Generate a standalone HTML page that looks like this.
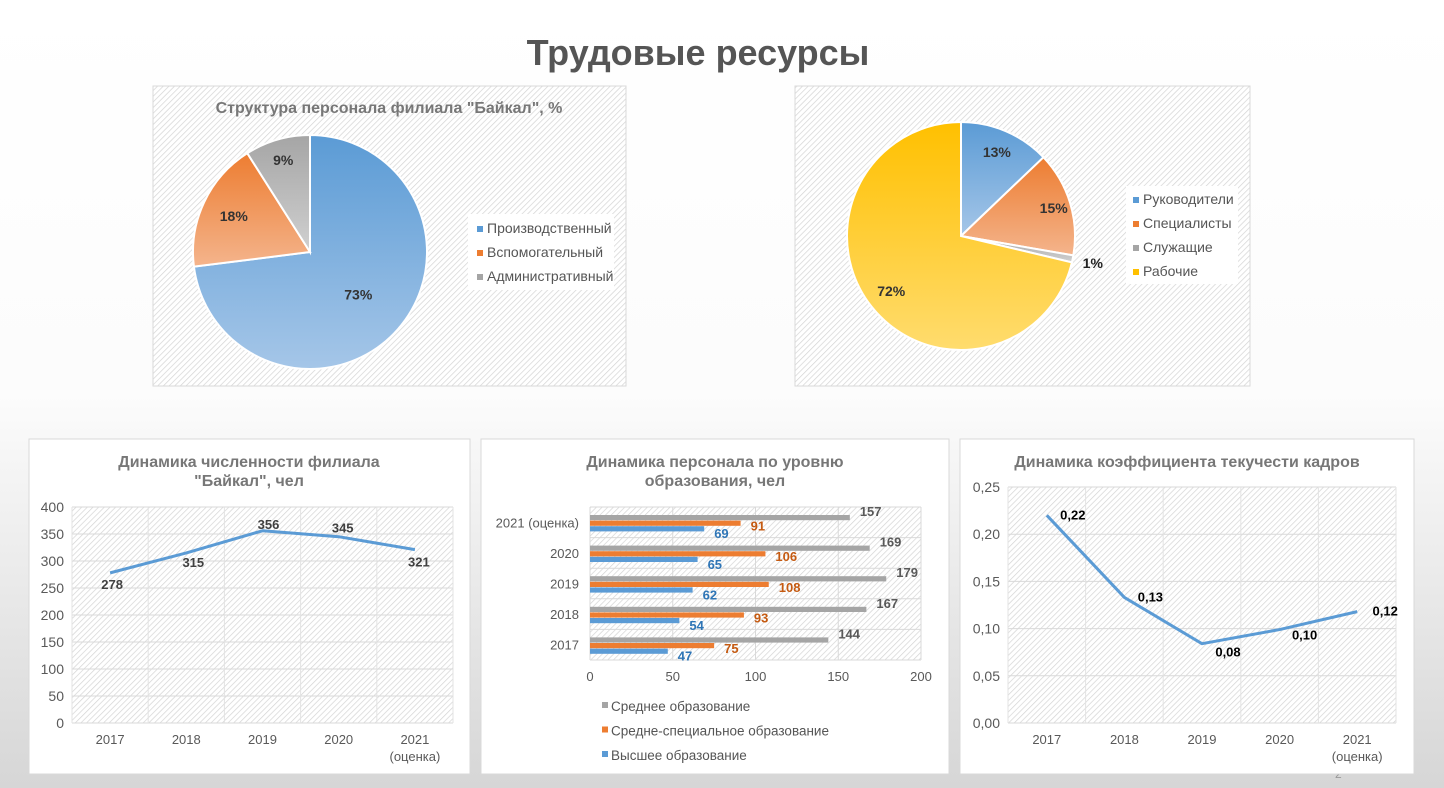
<!DOCTYPE html>
<html><head><meta charset="utf-8"><style>
body{margin:0;width:1444px;height:788px;overflow:hidden;font-family:"Liberation Sans",sans-serif;}
svg{display:block}
text{font-family:"Liberation Sans",sans-serif}
</style></head><body>
<svg id="s" width="1444" height="788" xmlns="http://www.w3.org/2000/svg">
<defs>
<linearGradient id="bg" x1="0" y1="0" x2="0" y2="1"><stop offset="0" stop-color="#ffffff"/><stop offset="0.5" stop-color="#fcfcfc"/><stop offset="1" stop-color="#d6d6d6"/></linearGradient>
<pattern id="hatch" width="4" height="4" patternUnits="userSpaceOnUse" patternTransform="rotate(45)"><rect width="4" height="4" fill="#ffffff"/><line x1="0" y1="0" x2="0" y2="4" stroke="#d4d4d4" stroke-width="1.4"/></pattern>
<linearGradient id="gBlue" x1="0" y1="0" x2="0" y2="1"><stop offset="0" stop-color="#5b9bd5"/><stop offset="1" stop-color="#a5c6e8"/></linearGradient>
<linearGradient id="gOr" x1="0" y1="0" x2="0" y2="1"><stop offset="0" stop-color="#ed7d31"/><stop offset="1" stop-color="#f4b48c"/></linearGradient>
<linearGradient id="gGr" x1="0" y1="0" x2="0" y2="1"><stop offset="0" stop-color="#a5a5a5"/><stop offset="1" stop-color="#d0d0d0"/></linearGradient>
<linearGradient id="gYe" x1="0" y1="0" x2="0" y2="1"><stop offset="0" stop-color="#ffc000"/><stop offset="1" stop-color="#ffdc6e"/></linearGradient>
</defs>
<rect width="1444" height="788" fill="url(#bg)"/>
<text x="698" y="65" text-anchor="middle" font-size="36" font-weight="bold" fill="#555">Трудовые ресурсы</text>
<text x="1335" y="778" font-size="12" fill="#999">2</text>

<g>
<rect x="153" y="86" width="473" height="300" fill="url(#hatch)" stroke="#d9d9d9"/>
<text x="389" y="113" text-anchor="middle" font-size="16" font-weight="bold" fill="#777">Структура персонала филиала "Байкал", %</text>
<g id="pie1"></g>
<rect x="468" y="214" width="146" height="76" fill="#fff"/>
<g id="leg1"></g>
</g>

<g>
<rect x="795" y="86" width="455" height="300" fill="url(#hatch)" stroke="#d9d9d9"/>
<g id="pie2"></g>
<rect x="1126" y="186" width="112" height="98" fill="#fff"/>
<g id="leg2"></g>
</g>

<g>
<rect x="29" y="439" width="441" height="335" fill="#fff" stroke="#d9d9d9"/>
<text x="249" y="467" text-anchor="middle" font-size="16" font-weight="bold" fill="#777">Динамика численности филиала</text>
<text x="249" y="486" text-anchor="middle" font-size="16" font-weight="bold" fill="#777">"Байкал", чел</text>
<g id="line1"></g>
</g>

<g>
<rect x="481" y="439" width="468" height="335" fill="#fff" stroke="#d9d9d9"/>
<text x="715" y="467" text-anchor="middle" font-size="16" font-weight="bold" fill="#777">Динамика персонала по уровню</text>
<text x="715" y="486" text-anchor="middle" font-size="16" font-weight="bold" fill="#777">образования, чел</text>
<g id="bar"></g>
</g>

<g>
<rect x="960" y="439" width="454" height="335" fill="#fff" stroke="#d9d9d9"/>
<text x="1187" y="467" text-anchor="middle" font-size="16" font-weight="bold" fill="#777">Динамика коэффициента текучести кадров</text>
<g id="line2"></g>
</g>
</svg>
<script>
const pie1Labels=["Производственный","Вспомогательный","Административный"];
const pie1Values=[73,18,9];
const pie2Labels=["Руководители","Специалисты","Служащие","Рабочие"];
const pie2Values=[13,15,1,72];
const headYears=["2017","2018","2019","2020","2021"];
const headValues=[278,315,356,345,321];
const headTicks=[0,50,100,150,200,250,300,350,400];
const eduYears=["2017","2018","2019","2020","2021 (оценка)"];
const eduHigher=[47,54,62,65,69];
const eduSpecial=[75,93,108,106,91];
const eduSecondary=[144,167,179,169,157];
const eduTicks=[0,50,100,150,200];
const eduSeries=["Среднее образование","Средне-специальное образование","Высшее образование"];
const turnYears=["2017","2018","2019","2020","2021"];
const turnValues=[0.22,0.133,0.084,0.099,0.118];
const turnLabels=["0,22","0,13","0,08","0,10","0,12"];
const turnTicks=[0,0.05,0.10,0.15,0.20,0.25];

const NS="http://www.w3.org/2000/svg";
function mk(parent,tag,attrs,txt){const e=document.createElementNS(NS,tag);for(const k in attrs)e.setAttribute(k,attrs[k]);if(txt!==undefined)e.textContent=txt;parent.appendChild(e);return e;}

function pie(gid,cx,cy,r,vals,fills,labelPos,labelColors){
  const g=document.getElementById(gid);
  const tot=vals.reduce((a,b)=>a+b,0);let a0=-Math.PI/2;
  vals.forEach((v,i)=>{
    const a1=a0+v/tot*2*Math.PI;
    const x0=cx+r*Math.cos(a0),y0=cy+r*Math.sin(a0),x1=cx+r*Math.cos(a1),y1=cy+r*Math.sin(a1);
    const p=mk(g,"path",{d:`M${cx},${cy}L${x0},${y0}A${r},${r} 0 ${a1-a0>Math.PI?1:0} 1 ${x1},${y1}Z`,fill:fills[i],stroke:"#fff","stroke-width":2});
    
    
    const am=(a0+a1)/2,lr=r*labelPos[i];
    const t=mk(g,"text",{x:cx+lr*Math.cos(am),y:cy+lr*Math.sin(am)+5,"text-anchor":"middle","font-size":14,"font-weight":"bold",fill:labelColors[i]},v+"%");
    
    
    a0=a1;
  });
}
pie("pie1",310,252,117,pie1Values,["url(#gBlue)","url(#gOr)","url(#gGr)"],[0.55,0.72,0.82],["#333","#333","#333"]);
pie("pie2",961,236,114,pie2Values,["url(#gBlue)","url(#gOr)","url(#gGr)","url(#gYe)"],[0.8,0.85,1.18,0.78],["#333","#333","#222","#333"]);

function legend(gid,x,y,dy,labels,colors){
  const g=document.getElementById(gid);
  labels.forEach((l,i)=>{
    const r=mk(g,"rect",{x:x,y:y+i*dy-7,width:6,height:6,fill:colors[i]});
    
    
    const t=mk(g,"text",{x:x+10,y:y+i*dy,"font-size":14,fill:"#555"},l);
    
    
  });
}
legend("leg1",477,233,24,pie1Labels,["#5b9bd5","#ed7d31","#a5a5a5"]);
legend("leg2",1133,204,24,pie2Labels,["#5b9bd5","#ed7d31","#a5a5a5","#ffc000"]);

function lineChart(gid,L,R,T,B,cats,vals,ticks,tmin,tmax,tickFmt,labels,labelOff,labelColor){
  const g=document.getElementById(gid);
  mk(g,"rect",{x:L,y:T,width:R-L,height:B-T,fill:"url(#hatch)"});
  const bw=(R-L)/cats.length;
  const X=i=>L+bw*(i+0.5),Y=v=>B-(v-tmin)/(tmax-tmin)*(B-T);
  ticks.forEach(t=>{mk(g,"line",{x1:L,x2:R,y1:Y(t),y2:Y(t),stroke:"#d9d9d9"});
    const tx=mk(g,"text",{x:L-8,y:Y(t)+5,"text-anchor":"end","font-size":14,fill:"#595959"},tickFmt(t));
    
    });
  for(let i=0;i<=cats.length;i++)mk(g,"line",{x1:L+bw*i,x2:L+bw*i,y1:T,y2:B,stroke:"#e3e3e3"});
  cats.forEach((c,i)=>{const tx=mk(g,"text",{x:X(i),y:B+21,"text-anchor":"middle","font-size":13,fill:"#595959"},c);
    
    
    if(i===cats.length-1){const t2=mk(g,"text",{x:X(i),y:B+38,"text-anchor":"middle","font-size":13,fill:"#595959"},"(оценка)");
      
      }});
  const pl=mk(g,"polyline",{points:vals.map((v,i)=>X(i)+","+Y(v)).join(" "),fill:"none",stroke:"#5b9bd5","stroke-width":3,"stroke-linejoin":"round"});
  
  
  vals.forEach((v,i)=>{const o=labelOff[i];
    const t=mk(g,"text",{x:X(i)+o[0],y:Y(v)+o[1],"text-anchor":"middle","font-size":13,"font-weight":"bold",fill:labelColor},labels[i]);
    
    });
}
lineChart("line1",72,453,507,723,headYears,headValues,headTicks,0,400,t=>t,headValues,[[2,16],[7,14],[6,-2],[4,-4],[4,17]],"#404040");
lineChart("line2",1008,1396,487,723,turnYears,turnValues,turnTicks,0,0.25,t=>t.toFixed(2).replace(".",","),turnLabels,[[26,4],[26,4],[26,13],[25,10],[28,4]],"#000");

(function(){
  const g=document.getElementById("bar");
  const L=590,R=921,T=507,B=660;
  mk(g,"rect",{x:L,y:T,width:R-L,height:B-T,fill:"url(#hatch)"});
  const X=v=>L+v/200*(R-L);
  const bh=(B-T)/eduYears.length;
  eduTicks.forEach(t=>{mk(g,"line",{x1:X(t),x2:X(t),y1:T,y2:B,stroke:"#d9d9d9"});
    const tx=mk(g,"text",{x:X(t),y:B+21,"text-anchor":"middle","font-size":13,fill:"#595959"},t);
    
    });
  for(let i=0;i<=eduYears.length;i++)mk(g,"line",{x1:L,x2:R,y1:T+bh*i,y2:T+bh*i,stroke:"#d9d9d9"});
  const series=[eduSecondary,eduSpecial,eduHigher],cols=["#a5a5a5","#ed7d31","#5b9bd5"],lcols=["#595959","#c55a11","#2e75b6"];
  eduYears.forEach((y,i)=>{
    const top=B-bh*(i+1);
    const tx=mk(g,"text",{x:L-11,y:top+bh/2+5,"text-anchor":"end","font-size":13,fill:"#595959"},y);
    
    
    series.forEach((s,k)=>{
      const yy=top+8+k*5.6;
      const r=mk(g,"rect",{x:L,y:yy,width:X(s[i])-L,height:5.2,fill:cols[k]});
      
      
      const t=mk(g,"text",{x:X(s[i])+10,y:yy+(k===0?1:k===1?10:12),"font-size":13,"font-weight":"bold",fill:lcols[k]},s[i]);
      
      
    });
  });
  eduSeries.forEach((n,k)=>{
    const r=mk(g,"rect",{x:602,y:702+k*24.5,width:6,height:6,fill:cols[k]});
    
    
    const t=mk(g,"text",{x:611,y:711+k*24.5,"font-size":13.5,fill:"#555"},n);
    
    
  });
})();
</script>
</body></html>
